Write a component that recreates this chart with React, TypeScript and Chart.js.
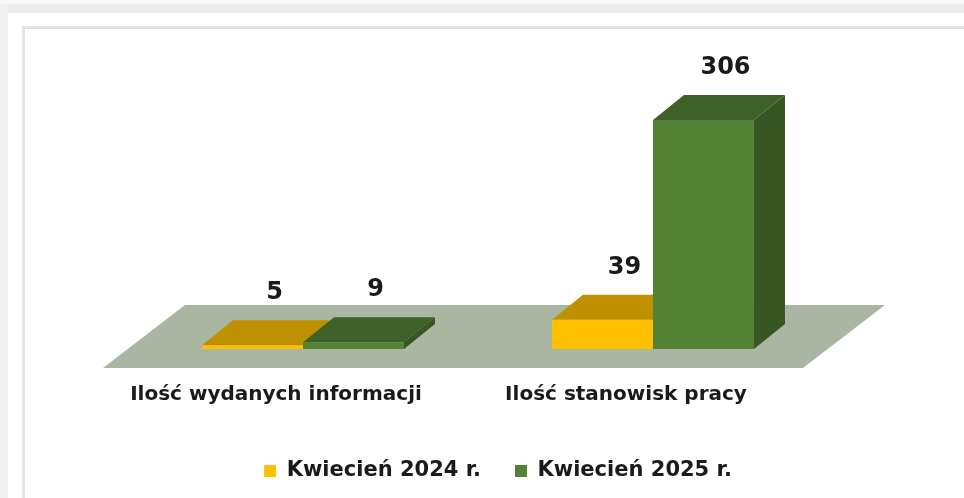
import React, { useEffect, useRef } from 'react';
import { Chart, registerables } from 'chart.js';

Chart.register(...registerables);

const categories = ['Ilość wydanych informacji', 'Ilość stanowisk pracy'];
const seriesNames = ['Kwiecień 2024 r.', 'Kwiecień 2025 r.'];
const values2024 = [5, 39];
const values2025 = [9, 306];

const FRONT = ['#FFC000', '#548235'];
const TOP = ['#BF9000', '#3D6129'];
const SIDE = ['#A67C00', '#375623'];
const FLOOR = '#AAB5A2';
const TEXT = '#1a1a1a';
const FONT = '"DejaVu Sans", sans-serif';

// 3D geometry (pixels)
const BAR_DX = 31;
const BAR_DY = -25;
const FLOOR_FRONT = { dx: -25, dy: 19 };
const FLOOR_BACK = { dx: 57, dy: -44 };

function poly(ctx: CanvasRenderingContext2D, pts: number[][], color: string) {
  ctx.fillStyle = color;
  ctx.beginPath();
  ctx.moveTo(pts[0][0], pts[0][1]);
  for (let i = 1; i < pts.length; i++) ctx.lineTo(pts[i][0], pts[i][1]);
  ctx.closePath();
  ctx.fill();
}

const threeD = {
  id: 'threeD',
  afterLayout(chart: any) {
    if (chart.legend) {
      chart.legend.left += 20;
      chart.legend.right += 20;
    }
  },
  beforeDatasetsDraw(chart: any) {
    const { ctx, chartArea: a } = chart;
    ctx.save();
    poly(ctx, [
      [a.left + FLOOR_FRONT.dx, a.bottom + FLOOR_FRONT.dy],
      [a.right + FLOOR_FRONT.dx, a.bottom + FLOOR_FRONT.dy],
      [a.right + FLOOR_BACK.dx, a.bottom + FLOOR_BACK.dy],
      [a.left + FLOOR_BACK.dx, a.bottom + FLOOR_BACK.dy],
    ], FLOOR);
    chart.data.datasets.forEach((_ds: any, di: number) => {
      const meta = chart.getDatasetMeta(di);
      meta.data.forEach((bar: any) => {
        const { x, y, base, width } = bar.getProps(['x', 'y', 'base', 'width'], true);
        const L = x - width / 2;
        const R = x + width / 2;
        poly(ctx, [[L, y], [R, y], [R + BAR_DX, y + BAR_DY], [L + BAR_DX, y + BAR_DY]], TOP[di]);
        poly(ctx, [[R, y], [R + BAR_DX, y + BAR_DY], [R + BAR_DX, base + BAR_DY], [R, base]], SIDE[di]);
      });
    });
    ctx.restore();
  },
  afterDatasetsDraw(chart: any) {
    const { ctx } = chart;
    ctx.save();
    ctx.font = `bold 24px ${FONT}`;
    ctx.fillStyle = TEXT;
    ctx.textAlign = 'center';
    ctx.textBaseline = 'middle';
    chart.data.datasets.forEach((ds: any, di: number) => {
      const meta = chart.getDatasetMeta(di);
      meta.data.forEach((bar: any, i: number) => {
        const { x, y } = bar.getProps(['x', 'y'], true);
        ctx.fillText(String(ds.data[i]), x + 22, y - 52);
      });
    });
    ctx.restore();
  },
};

export default function App() {
  const ref = useRef<HTMLCanvasElement>(null);
  useEffect(() => {
    if (!ref.current) return;
    const font = { family: FONT, size: 20, weight: 'bold' as const };
    const legendFont = { family: FONT, size: 21, weight: 'bold' as const };
    const chart = new Chart(ref.current, {
      type: 'bar',
      data: {
        labels: categories,
        datasets: [
          { label: seriesNames[0], data: values2024, backgroundColor: FRONT[0], borderWidth: 0, categoryPercentage: 0.577, barPercentage: 1 },
          { label: seriesNames[1], data: values2025, backgroundColor: FRONT[1], borderWidth: 0, categoryPercentage: 0.577, barPercentage: 1 },
        ],
      },
      options: {
        responsive: false,
        animation: false,
        layout: { padding: { left: 128, right: 136, top: 109.5, bottom: 6.5 } },
        scales: {
          x: {
            grid: { display: false, drawTicks: false },
            border: { display: false },
            ticks: { padding: 34, labelOffset: -27, color: TEXT, font },
            afterFit: (s: any) => { s.height = 77.5; },
          },
          y: { display: false, min: 0, max: 320 },
        },
        plugins: {
          legend: {
            position: 'bottom',
            labels: { boxWidth: 12, boxHeight: 12, padding: 34, color: TEXT, font: legendFont },
          },
          tooltip: { enabled: false },
        },
      },
      plugins: [threeD],
    });
    return () => chart.destroy();
  }, []);

  return (
    <div style={{ position: 'fixed', left: 0, top: 0, width: 964, height: 498, background: '#fff', overflow: 'hidden' }}>
      <div style={{ position: 'absolute', left: 0, top: 0, width: 964, height: 4, background: '#f7f7f7' }} />
      <div style={{ position: 'absolute', left: 8, top: 4, width: 956, height: 9, background: '#ebebeb' }} />
      <div style={{ position: 'absolute', left: 0, top: 4, width: 8, height: 494, background: '#f0f0f0' }} />
      <div style={{ position: 'absolute', left: 22, top: 26, width: 1000, height: 1000, borderTop: '3px solid #e2e2e2', borderLeft: '3px solid #e2e2e2', background: '#fff' }} />
      <canvas ref={ref} width={964} height={498} style={{ position: 'absolute', left: 0, top: 0 }} />
    </div>
  );
}
